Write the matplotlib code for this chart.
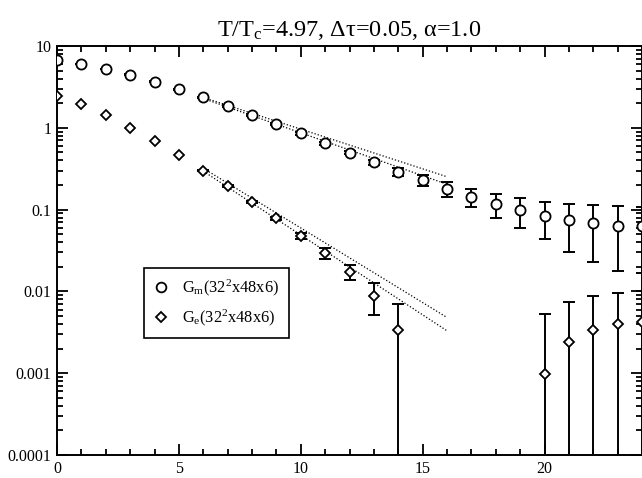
import numpy as np
import matplotlib
matplotlib.use("Agg")
import matplotlib.pyplot as plt
from matplotlib.lines import Line2D
from matplotlib.ticker import MultipleLocator, LogLocator, NullFormatter, FixedLocator, FixedFormatter

plt.rcParams['font.family'] = ['Liberation Serif', 'DejaVu Serif']
plt.rcParams['mathtext.fontset'] = 'custom'
plt.rcParams['mathtext.rm'] = 'Liberation Serif'
plt.rcParams['mathtext.it'] = 'Liberation Serif:italic'

# magnetic correlator G_m, tau = 0..24
t_m = np.arange(0, 25)
g_m = [6.7, 6.0, 5.22, 4.46, 3.67, 2.96, 2.35, 1.86, 1.45, 1.107, 0.853, 0.645,
       0.497, 0.378, 0.29, 0.228, 0.179, 0.144, 0.117, 0.098, 0.0843, 0.0747,
       0.068, 0.0636, 0.063]
g_m_err = [0.05, 0.05, 0.05, 0.05, 0.05, 0.05, 0.05, 0.04, 0.04, 0.03, 0.03, 0.025,
           0.025, 0.029, 0.031, 0.034, 0.036, 0.037, 0.039, 0.039, 0.041, 0.044,
           0.045, 0.046, 0.046]

# electric correlator G_e (tau 15..19 not shown)
t_e = [0, 1, 2, 3, 4, 5, 6, 7, 8, 9, 10, 11, 12, 13, 14, 20, 21, 22, 23, 24]
g_e = [2.48, 1.93, 1.42, 1.0, 0.69, 0.471, 0.30, 0.194, 0.123, 0.078, 0.0474,
       0.0292, 0.0174, 0.00887, 0.00337, 0.00098, 0.00243, 0.00337, 0.00399, 0.0042]
g_e_err = [0, 0, 0, 0, 0, 0, 0.006, 0.005, 0.004, 0.004, 0.004,
           0.0044, 0.0038, 0.0037, 0.0037, 0.0043, 0.0049, 0.0054, 0.0056, 0.0058]

# exponential fits (end points, straight lines on log scale)
fit_t = [6, 16]
fit_m1 = [2.35, 0.252]
fit_m2 = [2.28, 0.204]
fit_e1 = [0.32, 0.0048]
fit_e2 = [0.295, 0.0033]

fig = plt.figure(figsize=(6.42, 4.78), dpi=100)
ax = fig.add_axes([0.0888, 0.0481, 0.9112, 0.8557])
ax.set_yscale("log")

dot = (0, (1, 1.6))
for fy in (fit_m1, fit_m2, fit_e1, fit_e2):
    ax.plot(fit_t, fy, color="black", lw=0.9, linestyle=dot, zorder=2)

ax.errorbar(t_m, g_m, yerr=g_m_err, fmt="none", ecolor="black",
            elinewidth=1.4, capsize=4.5, capthick=1.4, zorder=3)
ax.plot(t_m, g_m, "o", ms=7.3, mfc="white", mec="black", mew=1.3, zorder=4)

e_t = np.array(t_e)
e_v = np.array(g_e)
e_err = np.array(g_e_err)
has_err = e_err > 0
ax.errorbar(e_t[has_err], e_v[has_err], yerr=e_err[has_err], fmt="none",
            ecolor="black", elinewidth=1.4, capsize=4.5, capthick=1.4, zorder=3)
ax.plot(e_t, e_v, "D", ms=5.3, mfc="white", mec="black", mew=1.3, zorder=4)

ax.set_xlim(0, 24)
ax.set_ylim(1e-4, 10)

ax.xaxis.set_major_locator(MultipleLocator(5))
ax.xaxis.set_minor_locator(MultipleLocator(1))
ax.yaxis.set_minor_locator(LogLocator(base=10, subs=np.arange(2, 10), numticks=20))
ax.yaxis.set_minor_formatter(NullFormatter())
yt = [1e-4, 1e-3, 1e-2, 1e-1, 1, 10]
ax.yaxis.set_major_locator(FixedLocator(yt))
ax.yaxis.set_major_formatter(FixedFormatter(["0.0001", "0.001", "0.01", "0.1", "1", "10"]))

ax.tick_params(which="both", direction="in", top=True, right=True, labelsize=11.5,
               width=1.3, colors="black")
ax.tick_params(which="major", length=8, pad=4)
ax.tick_params(which="minor", length=4)
for s in ax.spines.values():
    s.set_linewidth(1.4)

ax.set_title(r"T/T$_\mathrm{c}$=4.97, Δτ=0.05, α=1.0", fontsize=17.5, pad=7)

handles = [
    Line2D([], [], marker="o", ls="none", ms=7, mfc="white", mec="black", mew=1.3),
    Line2D([], [], marker="D", ls="none", ms=5.3, mfc="white", mec="black", mew=1.3),
]
labels = [r"G$_\mathrm{m}$(32$^\mathrm{2}$x48x6)", r"G$_\mathrm{e}$(32$^\mathrm{2}$x48x6)"]
leg = ax.legend(handles, labels, loc="upper left", bbox_to_anchor=(0.149, 0.457),
                borderaxespad=0, fancybox=False, edgecolor="black", framealpha=1,
                fontsize=11.8, handlelength=0.8, handletextpad=0.9, labelspacing=0.55,
                borderpad=0.6)
leg.get_frame().set_linewidth(1.2)

fig.savefig("out.png", dpi=100)
